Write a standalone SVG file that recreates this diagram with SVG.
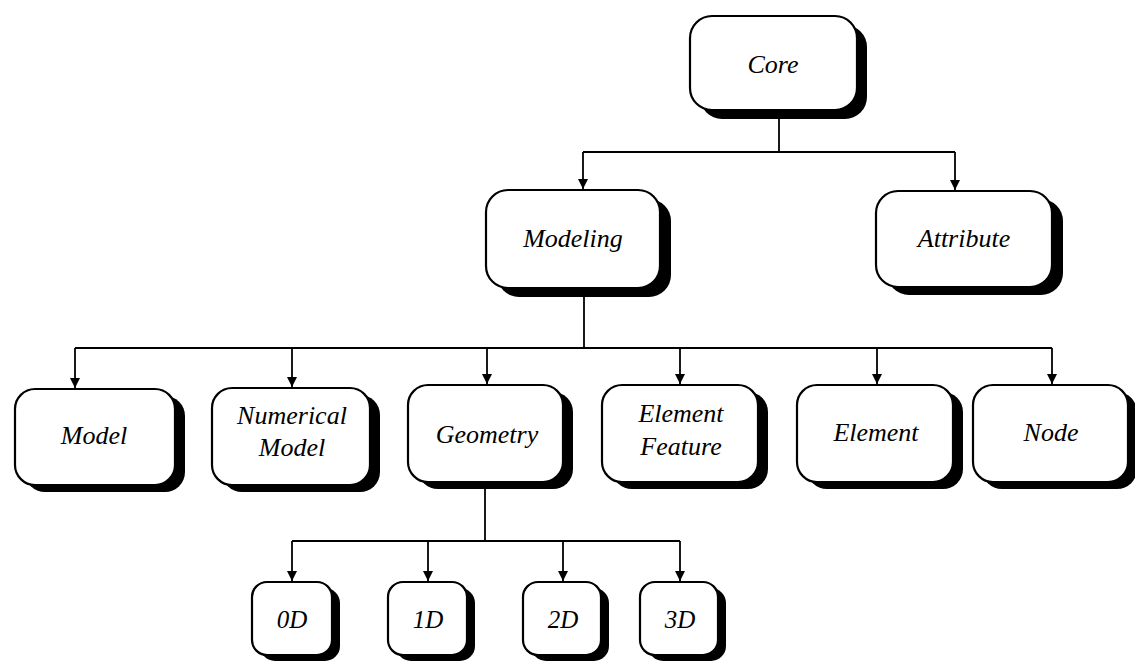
<svg xmlns="http://www.w3.org/2000/svg" width="1135" height="661" viewBox="0 0 1135 661">
  <defs>
    <marker id="arrow" viewBox="0 0 10 10" refX="10" refY="5" markerWidth="10" markerHeight="10" markerUnits="userSpaceOnUse" orient="auto">
      <path d="M0,0 L10,5 L0,10 Z" fill="#000"/>
    </marker>
  </defs>
  <style>
    .shadow { fill: #000; }
    .box { fill: #fff; stroke: #000; stroke-width: 2.2; }
    .label { font-family: 'Liberation Serif', 'DejaVu Serif', serif; font-style: italic; font-size: 26px; fill: #000; text-anchor: middle; }
    .small { font-size: 25px; }
    .link { fill: none; stroke: #000; stroke-width: 1.8; }
  </style>
  <rect width="1135" height="661" fill="#fff"/>

  <!-- connectors -->
  <g id="connectors">
    <path class="link" d="M779,119 V152"/>
    <path class="link" d="M583,152 H955"/>
    <path class="link" d="M583,152 V189" marker-end="url(#arrow)"/>
    <path class="link" d="M955,152 V190" marker-end="url(#arrow)"/>

    <path class="link" d="M584,297 V348"/>
    <path class="link" d="M75,348 H1052"/>
    <path class="link" d="M75,348 V388" marker-end="url(#arrow)"/>
    <path class="link" d="M292,348 V387" marker-end="url(#arrow)"/>
    <path class="link" d="M487,348 V384" marker-end="url(#arrow)"/>
    <path class="link" d="M680,348 V384" marker-end="url(#arrow)"/>
    <path class="link" d="M877,348 V384" marker-end="url(#arrow)"/>
    <path class="link" d="M1052,348 V384" marker-end="url(#arrow)"/>

    <path class="link" d="M485,489 V541"/>
    <path class="link" d="M292,541 H680"/>
    <path class="link" d="M292,541 V581" marker-end="url(#arrow)"/>
    <path class="link" d="M428,541 V581" marker-end="url(#arrow)"/>
    <path class="link" d="M563,541 V581" marker-end="url(#arrow)"/>
    <path class="link" d="M680,541 V581" marker-end="url(#arrow)"/>
  </g>

  <g id="core">
    <rect class="shadow" x="700" y="25" width="167" height="94" rx="22"/>
    <rect class="box" x="690" y="16" width="167" height="94" rx="22"/>
    <text class="label" x="773" y="73" font-family="Liberation Serif">Core</text>
  </g>

  <g id="modeling">
    <rect class="shadow" x="497" y="199" width="174" height="98" rx="22"/>
    <rect class="box" x="486" y="190" width="174" height="98" rx="22"/>
    <text class="label" x="573" y="247">Modeling</text>
  </g>

  <g id="attribute">
    <rect class="shadow" x="887" y="199" width="176" height="96" rx="22"/>
    <rect class="box" x="876" y="191" width="176" height="96" rx="22"/>
    <text class="label" x="964" y="247">Attribute</text>
  </g>

  <g id="model">
    <rect class="shadow" x="25" y="396" width="160" height="96" rx="20"/>
    <rect class="box" x="15" y="389" width="160" height="96" rx="20"/>
    <text class="label" x="94" y="444">Model</text>
  </g>

  <g id="numerical-model">
    <rect class="shadow" x="222" y="395" width="158" height="97" rx="20"/>
    <rect class="box" x="212" y="388" width="158" height="97" rx="20"/>
    <text class="label" x="292" y="424">Numerical</text>
    <text class="label" x="292" y="456">Model</text>
  </g>

  <g id="geometry">
    <rect class="shadow" x="418" y="392" width="155" height="97" rx="20"/>
    <rect class="box" x="408" y="385" width="155" height="97" rx="20"/>
    <text class="label" x="487" y="443">Geometry</text>
  </g>

  <g id="element-feature">
    <rect class="shadow" x="612" y="392" width="156" height="97" rx="20"/>
    <rect class="box" x="602" y="385" width="156" height="97" rx="20"/>
    <text class="label" x="681" y="422">Element</text>
    <text class="label" x="681" y="455">Feature</text>
  </g>

  <g id="element">
    <rect class="shadow" x="807" y="392" width="156" height="97" rx="20"/>
    <rect class="box" x="797" y="385" width="156" height="97" rx="20"/>
    <text class="label" x="876" y="441">Element</text>
  </g>

  <g id="node">
    <rect class="shadow" x="982" y="392" width="155" height="97" rx="20"/>
    <rect class="box" x="973" y="385" width="155" height="97" rx="20"/>
    <text class="label" x="1051" y="441">Node</text>
  </g>

  <g id="d0">
    <rect class="shadow" x="260" y="588" width="80" height="73" rx="15"/>
    <rect class="box" x="252" y="582" width="80" height="73" rx="15"/>
    <text class="label small" x="292" y="628">0D</text>
  </g>

  <g id="d1">
    <rect class="shadow" x="396" y="588" width="79" height="73" rx="15"/>
    <rect class="box" x="388" y="582" width="79" height="73" rx="15"/>
    <text class="label small" x="428" y="628">1D</text>
  </g>

  <g id="d2">
    <rect class="shadow" x="531" y="588" width="78" height="73" rx="15"/>
    <rect class="box" x="523" y="582" width="78" height="73" rx="15"/>
    <text class="label small" x="563" y="628">2D</text>
  </g>

  <g id="d3">
    <rect class="shadow" x="648" y="588" width="78" height="73" rx="15"/>
    <rect class="box" x="640" y="582" width="78" height="73" rx="15"/>
    <text class="label small" x="680" y="628">3D</text>
  </g>
</svg>
